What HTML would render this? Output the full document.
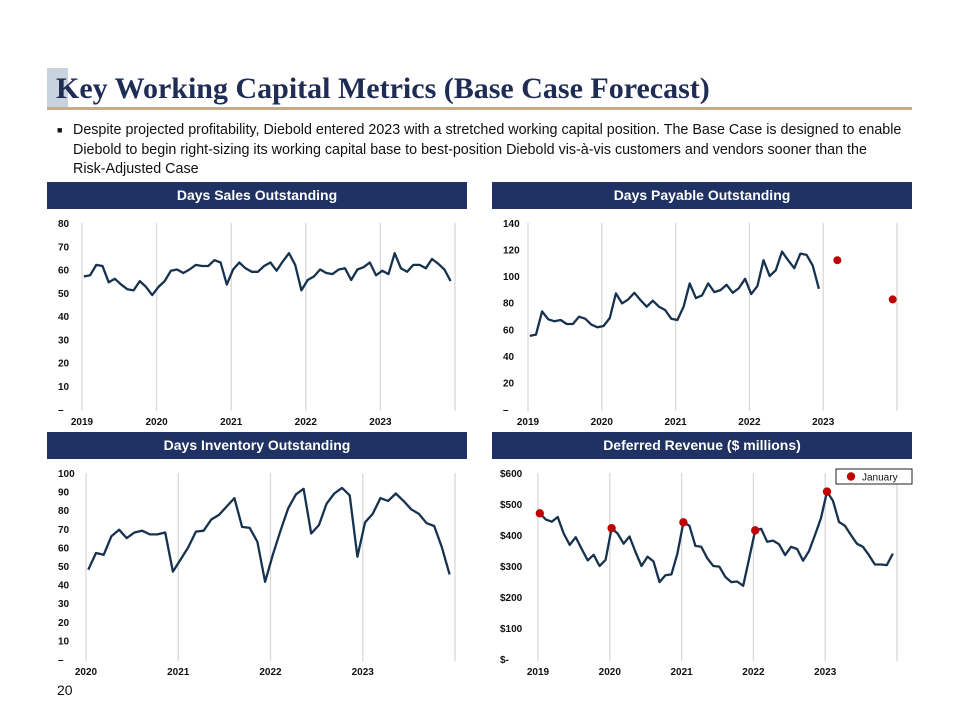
<!DOCTYPE html>
<html><head><meta charset="utf-8"><style>
body{margin:0;width:960px;height:720px;background:#fff;overflow:hidden;font-family:"Liberation Sans",sans-serif;position:relative}
.t{position:absolute}
</style></head><body>
<div class="t" style="left:47px;top:68px;width:21px;height:40px;background:#c9d3e0"></div>
<div class="t" style="left:56px;top:72px;font-family:'Liberation Serif',serif;font-size:30px;font-weight:bold;color:#1f2d55">Key Working Capital Metrics (Base Case Forecast)</div>
<div class="t" style="left:47px;top:107px;width:865px;height:3px;background:#c4ab8c"></div>
<div class="t" style="left:57px;top:121px;width:880px;font-size:14.3px;line-height:19.5px;color:#111;white-space:nowrap">
<span style="position:absolute;left:0;font-size:9px">■</span>
<div style="padding-left:16px">Despite projected profitability, Diebold entered 2023 with a stretched working capital position. The Base Case is designed to enable<br>Diebold to begin right-sizing its working capital base to best-position Diebold vis-à-vis customers and vendors sooner than the<br>Risk-Adjusted Case</div></div>
<div class="t" style="left:57px;top:682px;font-size:14px;color:#111">20</div>
<svg id="svg" width="960" height="720" style="position:absolute;left:0;top:0"></svg>
<script>
const dsoYears=["2019","2020","2021","2022","2023"];
const dsoTicks=["–","10","20","30","40","50","60","70","80"];
const dsoValues=[57,57.5,62,61.5,54.5,56,53.5,51.5,51,55,52.5,49,52.5,55,59.5,60,58.5,60,62,61.5,61.5,64,63,53.5,60,63,60.5,59,59,61.5,63,59.5,63.5,67,62,51,55.5,57,60,58.5,58,60,60.5,55.5,60,61,63,57.5,59.5,58,67,60.5,59,62,62,60.5,64.5,62.5,60,55];
const dpoYears=["2019","2020","2021","2022","2023"];
const dpoTicks=["–","20","40","60","80","100","120","140"];
const dpoValues=[55,56,73.5,67.5,66,67,64,64,69.5,68,63.5,61.5,62.5,68.5,87,79.5,82.5,87.5,82,77,81.5,77,74.5,68,67,77,94.5,83.5,85.5,94.5,88,89.5,93.5,87.5,91,98,86.5,92.5,112,100,104.5,118.5,112,106,117,116,108,90.5];
const dpoForecastMonths=[50,59];
const dpoForecastValues=[112,82.5];
const dioYears=["2020","2021","2022","2023"];
const dioTicks=["–","10","20","30","40","50","60","70","80","90","100"];
const dioValues=[48,57,56,66,69.5,65,68,69,67,67,68,47,53.5,60,68.5,69,75,77.5,82,86.5,71,70.5,63,41.5,56,69,81,88.5,91.5,67.5,72,83.5,89,92,88,55,73.5,78,86.5,85,89,85,80.5,78,73,71.5,60,45.5];
const defYears=["2019","2020","2021","2022","2023"];
const defTicks=["$-","$100","$200","$300","$400","$500","$600"];
const defValues=[470,450,443,458,405,368,393,355,318,336,300,320,422,405,372,395,345,300,330,315,248,270,273,340,441,430,365,362,325,300,298,265,248,250,236,325,415,420,378,382,370,335,362,355,317,348,400,455,540,510,442,430,400,372,362,335,305,305,303,340];
const janIdx=[0,12,24,36,48];

const NS="http://www.w3.org/2000/svg";
const svg=document.getElementById('svg');
function mk(tag,attrs,name,parent){const e=document.createElementNS(NS,tag);for(const k in attrs)e.setAttribute(k,attrs[k]);


(parent||svg).appendChild(e);return e;}
function txt(x,y,s,name,anchor,size,color,weight){const t=mk('text',{x:x,y:y,'font-size':size||10,'font-weight':weight||'bold','font-family':'Liberation Sans, sans-serif','text-anchor':anchor||'start',fill:color||'#111'},name);t.textContent=s;return t;}

function header(x,y,w,label,name){mk('rect',{x:x,y:y,width:w,height:27,fill:'#1f3263'},name+'-header');txt(x+w/2,y+18,label,name+'-title','middle',14,'#fff','bold');}
header(47,182,420,'Days Sales Outstanding','dso');
header(492,182,420,'Days Payable Outstanding','dpo');
header(47,432,420,'Days Inventory Outstanding','dio');
header(492,432,420,'Deferred Revenue ($ millions)','defrev');

function chart(o){
 const {name,left,right,top,bottom,years,ticks,max,values,months}=o;
 const g=mk('g',{},name+'-plot');
 const yearW=(right-left)/years.length;
 const xM=i=>left+(i+0.3)*(right-left)/months;
 const yV=v=>bottom-(v/max)*(bottom-top);
 for(let k=0;k<=years.length;k++){const x=left+k*yearW;
  mk('line',{x1:x,x2:x,y1:top,y2:bottom+2,stroke:'#d9d9d9','stroke-width':1.3},name+'-gridline',g);}
 years.forEach((yr,k)=>txt(left+k*yearW,bottom+16,yr,name+'-x-tick','middle',10));
 ticks.forEach((t,k)=>txt(o.labelX,yV(k*max/(ticks.length-1))+4,t,name+'-y-tick','start',10));
 const d=values.map((v,i)=>(i?'L':'M')+xM(i).toFixed(1)+' '+yV(v).toFixed(1)).join(' ');
 mk('path',{d:d,fill:'none',stroke:'#16324f','stroke-width':2.3,'stroke-linejoin':'round'},name+'-line',g);
 return {xM,yV};
}
chart({name:'dso',left:82,right:455,top:223,bottom:409,years:dsoYears,ticks:dsoTicks,max:80,values:dsoValues,months:60,labelX:58});
const c2=chart({name:'dpo',left:528,right:897,top:223,bottom:409,years:dpoYears,ticks:dpoTicks,max:140,values:dpoValues,months:60,labelX:503});
dpoForecastValues.forEach((v,k)=>mk('circle',{cx:c2.xM(dpoForecastMonths[k]),cy:c2.yV(v),r:4,fill:'#c00000'},'dpo-forecast-point'));
chart({name:'dio',left:86,right:455,top:473,bottom:659,years:dioYears,ticks:dioTicks,max:100,values:dioValues,months:48,labelX:58});
const c4=chart({name:'defrev',left:538,right:897,top:473,bottom:659,years:defYears,ticks:defTicks,max:600,values:defValues,months:60,labelX:500});
janIdx.forEach(i=>mk('circle',{cx:c4.xM(i),cy:c4.yV(defValues[i]),r:4.2,fill:'#c00000'},'january-point'));
mk('rect',{x:836,y:469,width:76,height:15,fill:'#fff',stroke:'#222','stroke-width':1},'legend-box');
mk('circle',{cx:851,cy:476.5,r:4.2,fill:'#c00000'},'legend-marker');
txt(862,480.5,'January','legend-label','start',10,'#111','normal');
</script>
</body></html>
